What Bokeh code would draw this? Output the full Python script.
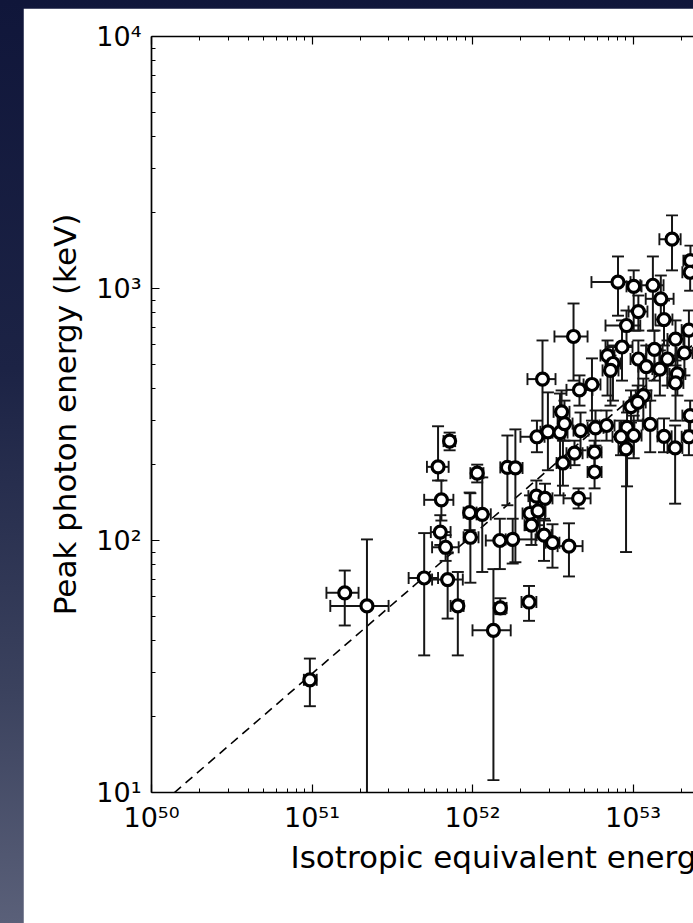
import numpy as np
from bokeh.plotting import figure
from bokeh.models import (ColumnDataSource, FixedTicker, LogAxis, Title,
                          Range1d, CustomJSTickFormatter)
from bokeh.layouts import column
from bokeh.embed import file_html
from bokeh.resources import INLINE

FONT = "DejaVu Sans"

# Isotropic equivalent energy of each burst (units of 1e52 erg) with its error range
eiso = [0.097, 0.16, 0.22, 0.50, 0.70, 0.61, 0.64, 0.63, 0.68, 0.72,
        0.81, 0.97, 0.96, 1.15, 1.07, 1.35, 1.49, 1.48, 1.65, 1.85,
        1.78, 2.25, 2.50, 2.83, 2.28, 2.56, 2.33, 2.79, 3.15, 3.99,
        4.58, 3.66, 4.32, 5.76, 5.76, 2.52, 2.95, 3.51, 3.74, 3.59,
        4.71, 5.84, 6.84, 9.18, 8.42, 10.1, 9.05, 9.72, 12.8, 15.6,
        18.3, 22.3, 22.7, 17.5, 22.8, 22.7, 8.06, 10.1, 13.3, 14.9,
        10.8, 15.6, 9.11, 22.3, 4.26, 18.4, 8.54, 13.6, 20.9, 6.94,
        10.8, 7.50, 16.4, 12.1, 7.24, 14.7, 18.9, 18.4, 2.73, 5.55,
        4.64, 11.6, 10.7]
eiso_lo = [0.089, 0.123, 0.13, 0.40, 0.56, 0.52, 0.50, 0.55, 0.56, 0.66,
           0.73, 0.88, 0.88, 1.06, 0.97, 1.00, 1.37, 1.21, 1.49, 1.68,
           1.61, 2.02, 2.23, 2.54, 2.05, 2.30, 2.11, 2.51, 2.85, 3.39,
           3.69, 3.34, 3.85, 5.21, 5.21, 1.99, 2.65, 3.15, 3.39, 3.20,
           4.26, 5.21, 6.18, 8.24, 7.45, 9.11, 8.12, 8.73, 11.5, 14.2,
           16.4, 20.1, 20.3, 14.6, 20.6, 20.3, 5.51, 9.11, 11.1, 12.0,
           9.38, 13.8, 6.74, 20.1, 3.24, 16.4, 6.74, 12.1, 18.7, 6.27,
           9.65, 6.74, 14.6, 10.8, 6.46, 13.2, 16.9, 16.4, 2.20, 4.92,
           3.85, 10.4, 9.51]
eiso_hi = [0.107, 0.195, 0.30, 0.61, 0.87, 0.71, 0.76, 0.73, 0.82, 0.78,
           0.88, 1.09, 1.06, 1.30, 1.17, 1.73, 1.63, 1.78, 1.80, 2.05,
           2.47, 2.50, 2.81, 3.15, 2.54, 2.85, 2.62, 3.11, 3.48, 4.85,
           5.44, 4.08, 4.85, 6.37, 6.37, 2.81, 3.34, 3.91, 4.20, 4.02,
           5.28, 6.55, 7.67, 10.2, 9.38, 11.3, 10.1, 10.8, 14.2, 17.4,
           20.3, 24.9, 25.2, 19.8, 25.2, 25.2, 9.65, 11.3, 15.5, 17.9,
           12.3, 17.6, 11.1, 24.9, 5.21, 20.6, 9.93, 15.3, 23.5, 7.67,
           12.0, 8.36, 18.4, 13.6, 8.12, 16.4, 21.2, 20.6, 3.29, 6.27,
           5.59, 13.0, 12.0]

# Peak photon energy (keV) with its error range
epeak = [28, 62, 55, 71, 70, 196, 145, 108, 94, 248,
         55, 103, 129, 127, 185, 44, 54, 100, 195, 194,
         101, 57, 150, 147, 128, 131, 115, 105, 98, 95,
         147, 203, 222, 224, 187, 258, 270, 268, 291, 324,
         273, 280, 286, 281, 258, 261, 231, 340, 289, 259,
         233, 258, 313, 1570, 1290, 1160, 1060, 1020, 1030, 910,
         810, 753, 713, 684, 645, 630, 586, 573, 555, 542,
         525, 504, 525, 490, 473, 479, 458, 422, 437, 416,
         396, 376, 353]
epeak_lo = [22, 46, 0.5, 35, 49, 173, 120, 96, 83, 228,
            35, 68, 110, 75, 170, 11.2, 51, 77, 138, 82,
            81, 48, 126, 120, 110, 115, 96, 83, 78, 72,
            134, 165, 199, 195, 161, 224, 190, 151, 249, 273,
            228, 238, 249, 164, 218, 212, 90, 294, 224, 224,
            140, 218, 273, 1180, 1130, 980, 780, 680, 680, 713,
            681, 594, 594, 568, 431, 518, 431, 431, 452, 376,
            376, 359, 412, 394, 343, 376, 376, 299, 261, 299,
            343, 299, 299]
epeak_hi = [34, 76, 101, 107, 89, 284, 173, 126, 105, 268,
            75, 154, 155, 178, 200, 77, 59, 122, 261, 276,
            122, 66, 173, 168, 151, 151, 134, 122, 116, 117,
            161, 249, 249, 249, 218, 299, 387, 383, 359, 394,
            322, 328, 328, 322, 299, 313, 268, 394, 359, 305,
            286, 299, 359, 1950, 1480, 1350, 1340, 1180, 1340, 1126,
            938, 896, 818, 818, 872, 747, 747, 681, 651, 622,
            622, 594, 622, 594, 542, 568, 542, 495, 622, 528,
            452, 439, 412]

E_UNIT = 1e52            # erg
# Power-law Ep-Eiso relation: Ep = FIT_NORM * (Eiso / 1e52 erg) ** FIT_INDEX
FIT_NORM = 105.0         # keV
FIT_INDEX = 0.55

x_decades = [50, 51, 52, 53, 54, 55]
y_decades = [1, 2, 3, 4]

src = ColumnDataSource(dict(
    e=np.array(eiso) * E_UNIT,
    e_lo=np.array(eiso_lo) * E_UNIT,
    e_hi=np.array(eiso_hi) * E_UNIT,
    ep=np.array(epeak, dtype=float),
    ep_lo=np.array(epeak_lo, dtype=float),
    ep_hi=np.array(epeak_hi, dtype=float),
))

x_start, x_end = 1e50, 10 ** 53.3769
p = figure(width=670, height=915, x_axis_type="log", y_axis_type="log",
           x_range=Range1d(x_start, x_end), y_range=Range1d(10, 1e4),
           output_backend="svg", toolbar_location=None,
           min_border_left=128, min_border_right=0,
           min_border_top=28, min_border_bottom=131)
p.margin = (8, 0, 0, 23)
p.background_fill_color = "white"
p.border_fill_color = "white"
p.outline_line_color = None
p.xgrid.visible = False
p.ygrid.visible = False

sup_fmt = CustomJSTickFormatter(code="""
const sup = {"0": "\u2070", "1": "\u00b9", "2": "\u00b2", "3": "\u00b3",
             "4": "\u2074", "5": "\u2075", "6": "\u2076", "7": "\u2077",
             "8": "\u2078", "9": "\u2079", "-": "\u207b"};
const e = Math.round(Math.log10(tick));
return "10" + String(e).split("").map(c => sup[c]).join("");
""")
blank_fmt = CustomJSTickFormatter(code="return '';")

def log_ticker(decades):
    major = [10.0 ** d for d in decades]
    minor = [m * 10.0 ** d for d in decades for m in range(2, 10)]
    return FixedTicker(ticks=major, minor_ticks=minor)

def style_axis(ax):
    ax.axis_line_color = "black"
    ax.axis_line_width = 1.7
    ax.major_tick_in = 8
    ax.major_tick_out = 0
    ax.minor_tick_in = 4
    ax.minor_tick_out = 0
    ax.major_tick_line_color = "black"
    ax.minor_tick_line_color = "black"
    ax.major_tick_line_width = 1.2
    ax.minor_tick_line_width = 1.0
    ax.major_label_text_font = FONT
    ax.major_label_text_font_size = "27px"
    ax.major_label_text_color = "black"

xax = p.xaxis[0]
xax.ticker = log_ticker(x_decades)
xax.formatter = sup_fmt
style_axis(xax)
xax.major_label_standoff = 9

yax = p.yaxis[0]
yax.ticker = log_ticker(y_decades)
yax.formatter = sup_fmt
style_axis(yax)
yax.major_label_standoff = 10
yax.axis_label = "Peak photon energy (keV)"
yax.axis_label_text_font = FONT
yax.axis_label_text_font_size = "31px"
yax.axis_label_text_font_style = "normal"
yax.axis_label_text_color = "black"
yax.axis_label_standoff = 10

top = LogAxis(ticker=log_ticker(x_decades), formatter=blank_fmt)
style_axis(top)
top.major_label_standoff = 0
p.add_layout(top, "above")

# x-axis caption, set from the left edge of the frame
p.add_layout(Title(text="Isotropic equivalent energy (erg)", align="left",
                   offset=139, standoff=3, text_font=FONT,
                   text_font_size="31px", text_font_style="normal",
                   text_color="black"), "below")

# Best-fit power law across the whole energy axis
fit_e = np.array([x_start, x_end])
fit_ep = FIT_NORM * (fit_e / E_UNIT) ** FIT_INDEX
p.line(fit_e, fit_ep, line_color="black", line_width=1.6, line_dash="9 6")

err_color = "#161616"
p.segment(x0="e", y0="ep_lo", x1="e", y1="ep_hi", source=src,
          line_color=err_color, line_width=2.0)
p.segment(x0="e_lo", y0="ep", x1="e_hi", y1="ep", source=src,
          line_color=err_color, line_width=2.0)
for xc, yc, ang in (("e", "ep_lo", 0.0), ("e", "ep_hi", 0.0),
                    ("e_lo", "ep", np.pi / 2), ("e_hi", "ep", np.pi / 2)):
    p.scatter(x=xc, y=yc, source=src, marker="dash", size=12, angle=ang,
              line_color=err_color, line_width=1.9)

p.scatter(x="e", y="ep", source=src, marker="circle", size=12,
          fill_color="white", line_color="black", line_width=3.2)

page = column(p, styles={
    "background": "linear-gradient(to bottom, #10163a 0%, #1c2345 40%, "
                  "#3b425e 75%, #5a6079 100%)"})

open("out.html", "w").write(file_html(page, INLINE))
